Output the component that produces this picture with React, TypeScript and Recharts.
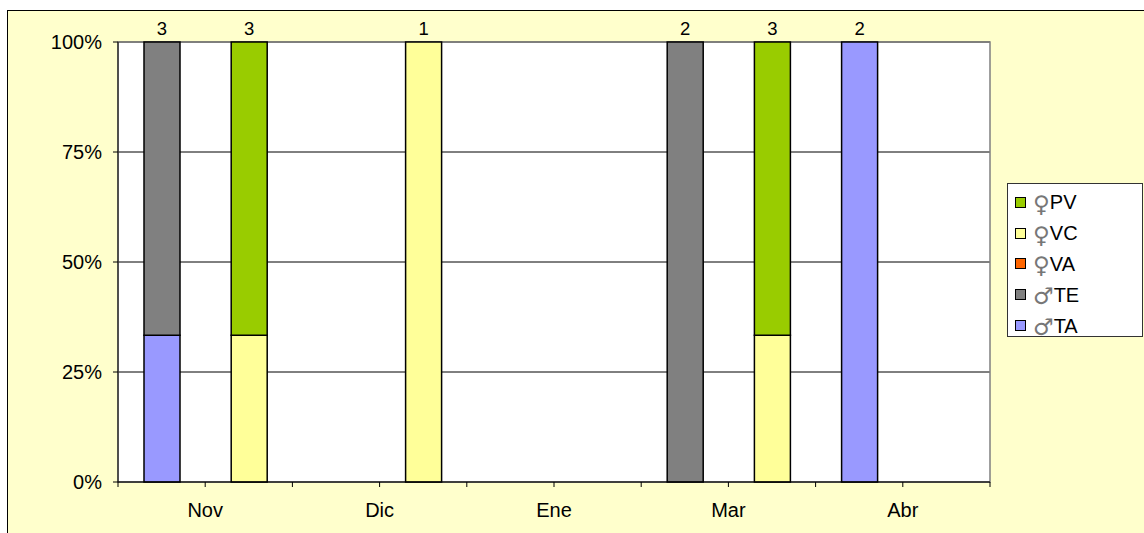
import React from 'react';
import { BarChart, Bar, XAxis, YAxis, CartesianGrid, Legend, LabelList, ReferenceArea } from 'recharts';

// Month categories (each month has a male slot and a female slot)
const months = ['Nov', 'Dic', 'Ene', 'Mar', 'Abr'];
const slots = ['Nov ♂', 'Nov ♀', 'Dic ♂', 'Dic ♀', 'Ene ♂', 'Ene ♀', 'Mar ♂', 'Mar ♀', 'Abr ♂', 'Abr ♀'];

// Counts per slot (stacked and normalised to 100%)
const TA = [1, 0, 0, 0, 0, 0, 0, 0, 2, 0];
const TE = [2, 0, 0, 0, 0, 0, 2, 0, 0, 0];
const VA = [0, 0, 0, 0, 0, 0, 0, 0, 0, 0];
const VC = [0, 1, 0, 1, 0, 0, 0, 1, 0, 0];
const PV = [0, 2, 0, 0, 0, 0, 0, 2, 0, 0];

const yTicks = [0, 0.25, 0.5, 0.75, 1];

const series = [
  { key: 'TA', sym: '♂', code: 'TA', color: '#9999FF', values: TA },
  { key: 'TE', sym: '♂', code: 'TE', color: '#808080', values: TE },
  { key: 'VA', sym: '♀', code: 'VA', color: '#FF6600', values: VA },
  { key: 'VC', sym: '♀', code: 'VC', color: '#FFFF99', values: VC },
  { key: 'PV', sym: '♀', code: 'PV', color: '#99CC00', values: PV },
];

const data = slots.map((slot, i) => {
  const row: Record<string, any> = { slot };
  series.forEach((s) => {
    row[s.key] = s.values[i];
  });
  return row;
});

const totals = slots.map((_, i) => series.reduce((acc, s) => acc + s.values[i], 0));
const topSeries = slots.map((_, i) => {
  let top = -1;
  series.forEach((s, si) => {
    if (s.values[i] > 0) top = si;
  });
  return top;
});

const FONT = '"Liberation Sans", Arial, "DejaVu Sans", sans-serif';
const TICK_SIZE = 5;
const TICK_MARGIN = 16;

const makeLabel = (si: number) => (props: any) => {
  const index = slots.indexOf(props.value);
  if (index < 0 || topSeries[index] !== si) return null;
  const vb = props.viewBox || {};
  const x = vb.x ?? props.x;
  const y = vb.y ?? props.y;
  const w = vb.width ?? props.width;
  return (
    <text x={x + w / 2} y={y - 7} textAnchor="middle" fontSize={18.5} fontFamily={FONT} fill="#000">
      {totals[index]}
    </text>
  );
};

// Tick marks at slot boundaries, month names centred under each pair of slots
const SlotTick = (props: any) => {
  const { x, y, payload, index } = props;
  const half = payload && payload.offset ? payload.offset : 0;
  const axisY = y - TICK_SIZE - TICK_MARGIN;
  const isLast = index === slots.length - 1;
  const monthIdx = Math.floor(index / 2);
  return (
    <g>
      <line x1={x - half} x2={x - half} y1={axisY} y2={axisY + TICK_SIZE} stroke="#000" />
      {isLast && <line x1={x + half} x2={x + half} y1={axisY} y2={axisY + TICK_SIZE} stroke="#000" />}
      {index % 2 === 1 && (
        <text x={x - half} y={y} dy="0.71em" textAnchor="middle" fontSize={20} fontFamily={FONT} fill="#000">
          {months[monthIdx]}
        </text>
      )}
    </g>
  );
};

const LegendBox = () => (
  <div
    style={{
      width: 136,
      height: 154,
      boxSizing: 'border-box',
      border: '1px solid #333',
      background: '#fff',
      paddingTop: 3,
      fontFamily: FONT,
      fontSize: 20,
      color: '#000',
    }}
  >
    {series
      .slice()
      .reverse()
      .map((s) => (
        <div key={s.key} style={{ height: 30.8, display: 'flex', alignItems: 'center', paddingLeft: 7 }}>
          <span
            style={{
              display: 'inline-block',
              width: 9,
              height: 9,
              background: s.color,
              border: '1px solid #000',
              marginRight: 7,
            }}
          />
          <span style={{ lineHeight: 1, whiteSpace: 'nowrap', display: 'flex', alignItems: 'center' }}>
            <span
              style={{
                fontFamily: '"DejaVu Sans", sans-serif',
                fontSize: 23,
                color: '#777',
                lineHeight: 1,
                position: 'relative',
                top: 2,
              }}
            >
              {s.sym}
            </span>
            <span>{s.code}</span>
          </span>
        </div>
      ))}
  </div>
);

export default function App() {
  return (
    <div style={{ position: 'fixed', left: 0, top: 0, width: 1144, height: 533, overflow: 'hidden', background: '#fff' }}>
      <div
        style={{
          position: 'absolute',
          left: 7,
          top: 10,
          width: 1160,
          height: 540,
          background: '#FFFFCC',
          border: '1px solid #000',
        }}
      />
      <div style={{ position: 'absolute', left: 0, top: 0 }}>
        <BarChart
          width={1144}
          height={533}
          data={data}
          stackOffset="expand"
          barSize={36}
          margin={{ top: 42, right: 154, bottom: 0, left: 0 }}
          style={{ fontFamily: FONT }}
        >
          <CartesianGrid vertical={false} stroke="#000" fill="#fff" fillOpacity={1} />
          <XAxis
            dataKey="slot"
            type="category"
            height={51}
            interval={0}
            tickSize={TICK_SIZE}
            tickMargin={TICK_MARGIN}
            tickLine={false}
            stroke="#000"
            tick={<SlotTick />}
          />
          <YAxis
            domain={[0, 1]}
            ticks={yTicks}
            width={118}
            tickSize={5}
            tickMargin={11}
            stroke="#000"
            tick={{ fill: '#000', fontSize: 20, fontFamily: FONT }}
            tickFormatter={(v: number) => `${Math.round(v * 100)}%`}
          />
          <ReferenceArea
            x1={slots[0]}
            x2={slots[slots.length - 1]}
            y1={0}
            y2={1}
            fill="none"
            stroke="#808080"
            strokeWidth={1.5}
            ifOverflow="visible"
          />
          <Legend
            layout="vertical"
            align="center"
            verticalAlign="middle"
            wrapperStyle={{ left: 1007, top: 183, width: 136, height: 154 }}
            content={() => <LegendBox />}
          />
          {series.map((s, si) => (
            <Bar
              key={s.key}
              dataKey={s.key}
              name={`${s.sym}${s.code}`}
              stackId="all"
              fill={s.color}
              stroke="#000"
              strokeWidth={1.5}
              isAnimationActive={false}
            >
              <LabelList dataKey="slot" content={makeLabel(si)} />
            </Bar>
          ))}
        </BarChart>
      </div>
    </div>
  );
}
